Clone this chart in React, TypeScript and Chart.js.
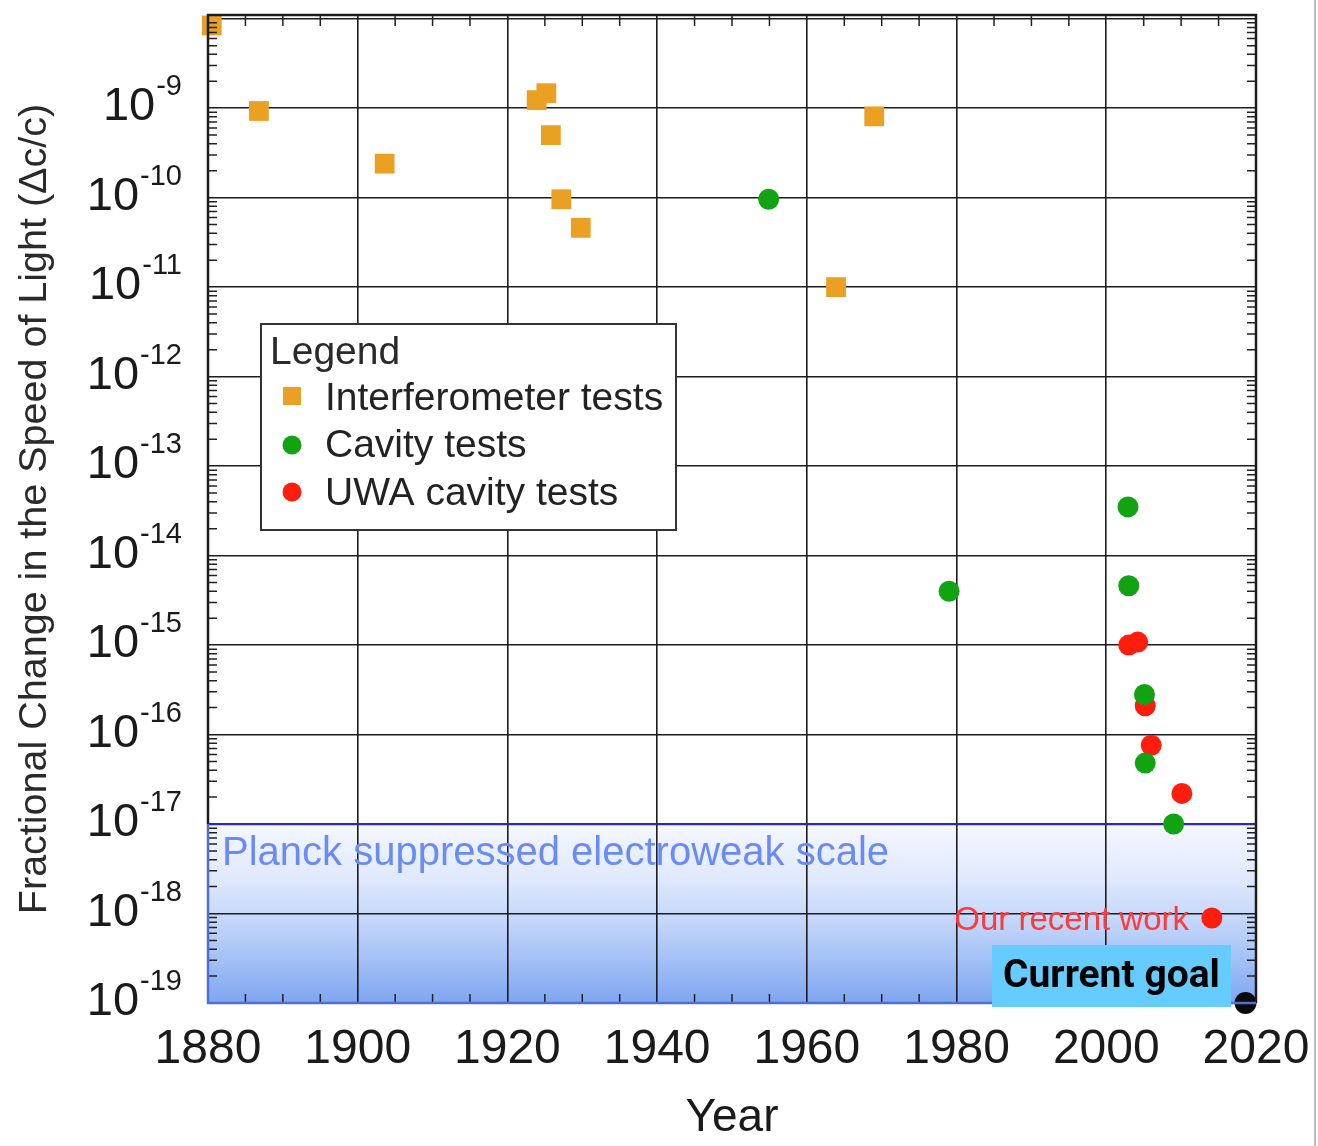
import React, { useEffect, useRef } from 'react';
import { Chart, registerables } from 'chart.js';

Chart.register(...registerables);
Chart.defaults.font.family = '"Liberation Sans", Arial, Helvetica, sans-serif';

// Measured limits on the fractional change of the speed of light, by year
const interferometerYears = [1880.5, 1886.8, 1903.6, 1923.9, 1925.2, 1925.8, 1927.2, 1929.8, 1963.9, 1969.0];
const interferometerValues = [8.4e-9, 9.3e-10, 2.4e-10, 1.23e-9, 1.47e-9, 5.0e-10, 9.6e-11, 4.6e-11, 1.0e-11, 8.1e-10];

const cavityYears = [1954.9, 1979.0, 2002.9, 2003.0, 2005.1, 2005.2, 2009.0];
const cavityValues = [9.6e-11, 4.0e-15, 3.5e-14, 4.6e-15, 2.8e-16, 4.8e-17, 1.0e-17];

const uwaYears = [2003.0, 2004.2, 2005.2, 2006.0, 2010.1, 2014.1];
const uwaValues = [1.0e-15, 1.08e-15, 2.1e-16, 7.6e-17, 2.2e-17, 8.9e-19];

const goalYears = [2018.6];
const goalValues = [1e-19];

const seriesLabels = ['Interferometer tests', 'Cavity tests', 'UWA cavity tests'];
const seriesColors = ['#E9A023', '#12A312', '#FF1E0E'];

// Axis ticks
const yearLabels = [1880, 1900, 1920, 1940, 1960, 1980, 2000, 2020];
const decadeExponents = [-19, -18, -17, -16, -15, -14, -13, -12, -11, -10, -9];
const yMin = 1e-19;
const yMax = 1.1e-8;
const planckLevel = 1e-17;

const FONT = '"Liberation Sans", Arial, Helvetica, sans-serif';

const isDecade = (v: number) => {
  const e = Math.log10(v);
  return Math.abs(e - Math.round(e)) < 1e-6;
};

const points = (xs: number[], ys: number[]) => xs.map((x, i) => ({ x, y: ys[i] }));

const decorPlugin = {
  id: 'decor',
  beforeDraw(chart: any) {
    const { ctx, chartArea: a, scales } = chart;
    const y0 = scales.y.getPixelForValue(planckLevel);
    const g = ctx.createLinearGradient(0, y0, 0, a.bottom);
    g.addColorStop(0, '#F4F7FF');
    g.addColorStop(0.3, '#E0E9FD');
    g.addColorStop(0.6, '#BCD1FA');
    g.addColorStop(1, '#7FA6F1');
    ctx.save();
    ctx.fillStyle = g;
    ctx.fillRect(a.left, y0, a.right - a.left, a.bottom - y0);
    ctx.restore();
  },
  beforeDatasetsDraw(chart: any) {
    const { ctx, chartArea: a } = chart;
    ctx.save();
    ctx.font = `40px ${FONT}`;
    ctx.fillStyle = '#6A8BF7';
    ctx.textAlign = 'left';
    ctx.textBaseline = 'alphabetic';
    ctx.fillText('Planck suppressed electroweak scale', a.left + 14, 865);
    ctx.restore();
  },
  afterDraw(chart: any) {
    const { ctx, chartArea: a, scales } = chart;
    const xs = scales.x;
    const ys = scales.y;
    ctx.save();

    // inward minor ticks
    ctx.strokeStyle = '#222';
    ctx.lineWidth = 1.5;
    ctx.beginPath();
    for (let yr = 1880; yr <= 2020; yr += 5) {
      if (yr % 20 === 0) continue;
      const x = xs.getPixelForValue(yr);
      ctx.moveTo(x, a.top);
      ctx.lineTo(x, a.top + 11);
      ctx.moveTo(x, a.bottom);
      ctx.lineTo(x, a.bottom - 9);
    }
    ys.ticks.forEach((t: any) => {
      if (isDecade(t.value)) return;
      const y = ys.getPixelForValue(t.value);
      ctx.moveTo(a.left, y);
      ctx.lineTo(a.left + 9, y);
      ctx.moveTo(a.right, y);
      ctx.lineTo(a.right - 9, y);
    });
    ctx.stroke();

    // frame
    const yp = ys.getPixelForValue(planckLevel);
    ctx.lineWidth = 2.5;
    ctx.strokeStyle = '#1c1c1c';
    ctx.beginPath();
    ctx.moveTo(a.left, yp);
    ctx.lineTo(a.left, a.top);
    ctx.lineTo(a.right, a.top);
    ctx.lineTo(a.right, a.bottom);
    ctx.stroke();
    ctx.strokeStyle = '#4F6FD6';
    ctx.beginPath();
    ctx.moveTo(a.left, yp);
    ctx.lineTo(a.left, a.bottom);
    ctx.lineTo(a.right, a.bottom);
    ctx.stroke();

    // y tick labels with superscript exponents
    ctx.fillStyle = '#1a1a1a';
    ctx.textBaseline = 'alphabetic';
    ctx.textAlign = 'left';
    const right = 182;
    decadeExponents.forEach((e) => {
      const y = ys.getPixelForValue(Math.pow(10, e));
      const sup = '-' + String(Math.abs(e));
      ctx.font = `29px ${FONT}`;
      const supW = ctx.measureText(sup).width;
      ctx.font = `47px ${FONT}`;
      const baseW = ctx.measureText('10').width;
      const supX = right - supW;
      ctx.fillText('10', supX - baseW - 1, y + 12);
      ctx.font = `29px ${FONT}`;
      ctx.fillText(sup, supX, y - 13);
    });

    // legend box
    const lx = 261, ly = 324, lw = 415, lh = 206;
    ctx.fillStyle = '#ffffff';
    ctx.fillRect(lx, ly, lw, lh);
    ctx.strokeStyle = '#333';
    ctx.lineWidth = 2;
    ctx.strokeRect(lx, ly, lw, lh);
    ctx.fillStyle = '#2a2a2a';
    ctx.font = `39px ${FONT}`;
    ctx.fillText('Legend', 270, 364);
    const rowY = [396, 445, 492];
    const baseY = [410, 457, 505];
    seriesLabels.forEach((label, i) => {
      ctx.fillStyle = seriesColors[i];
      ctx.beginPath();
      if (i === 0) {
        ctx.rect(292 - 9, rowY[i] - 9, 18, 18);
      } else {
        ctx.arc(292, rowY[i], 9.5, 0, Math.PI * 2);
      }
      ctx.fill();
      ctx.fillStyle = '#222';
      ctx.font = `39px ${FONT}`;
      ctx.fillText(label, 325, baseY[i]);
    });

    // annotation next to the latest result
    ctx.fillStyle = '#FF3A3A';
    ctx.font = `33px ${FONT}`;
    ctx.textAlign = 'right';
    ctx.fillText('Our recent work', 1189, 930);

    // current goal tag
    ctx.fillStyle = '#66CCFF';
    ctx.fillRect(992, 945, 239, 62);
    ctx.fillStyle = '#000';
    ctx.font = `bold 39px Roboto, "Open Sans", sans-serif`;
    ctx.textAlign = 'left';
    ctx.fillText('Current goal', 1003, 987);

    // page edge rule
    ctx.strokeStyle = '#bdbdbd';
    ctx.lineWidth = 2;
    ctx.beginPath();
    ctx.moveTo(1315, 0);
    ctx.lineTo(1315, 1146);
    ctx.stroke();

    ctx.restore();
  },
};

export default function App() {
  const ref = useRef<HTMLCanvasElement>(null);

  useEffect(() => {
    const canvas = ref.current;
    if (!canvas) return;

    const chart = new Chart(canvas, {
      type: 'scatter',
      data: {
        datasets: [
          {
            label: seriesLabels[0],
            data: points(interferometerYears, interferometerValues),
            pointStyle: 'rect',
            pointRadius: 14,
            backgroundColor: seriesColors[0],
            borderColor: seriesColors[0],
            borderWidth: 0,
            clip: false,
          },
          {
            label: seriesLabels[1],
            data: points(cavityYears, cavityValues),
            pointStyle: 'circle',
            pointRadius: 10.5,
            backgroundColor: seriesColors[1],
            borderColor: seriesColors[1],
            borderWidth: 0,
            clip: false,
          },
          {
            label: seriesLabels[2],
            data: points(uwaYears, uwaValues),
            pointStyle: 'circle',
            pointRadius: 10.5,
            backgroundColor: seriesColors[2],
            borderColor: seriesColors[2],
            borderWidth: 0,
            clip: false,
          },
          {
            label: 'Current goal',
            data: points(goalYears, goalValues),
            pointStyle: 'circle',
            pointRadius: 11,
            backgroundColor: '#0a0a0a',
            borderColor: '#0a0a0a',
            borderWidth: 0,
            clip: false,
          },
        ],
      },
      options: {
        responsive: false,
        animation: false,
        events: [],
        layout: { padding: { top: 15, right: 62, left: 0, bottom: 0 } },
        plugins: {
          legend: { display: false },
          tooltip: { enabled: false },
        },
        scales: {
          x: {
            type: 'linear',
            min: 1880,
            max: 2020,
            afterFit: (s: any) => {
              s.height = 143;
              s.paddingLeft = 0;
              s.paddingRight = 0;
            },
            afterBuildTicks: (s: any) => {
              const t = [];
              for (let yr = 1880; yr <= 2020; yr += 5) t.push({ value: yr });
              s.ticks = t;
            },
            border: { display: false },
            grid: {
              drawTicks: false,
              color: (c: any) => {
                const v = c.tick ? c.tick.value : 0;
                return yearLabels.includes(v) && v !== 1880 && v !== 2020 ? '#1c1c1c' : 'rgba(0,0,0,0)';
              },
              lineWidth: 1.6,
            },
            ticks: {
              autoSkip: false,
              maxRotation: 0,
              padding: 18,
              color: '#1a1a1a',
              font: { size: 48 },
              callback: (v: any) => (yearLabels.includes(Number(v)) ? String(v) : ''),
            },
            title: {
              display: true,
              text: 'Year',
              color: '#1a1a1a',
              font: { size: 46 },
              padding: { top: 0, bottom: 0 },
            },
          },
          y: {
            type: 'logarithmic',
            min: yMin,
            max: yMax,
            afterFit: (s: any) => {
              s.width = 208;
              s.paddingTop = 0;
              s.paddingBottom = 0;
            },
            afterBuildTicks: (s: any) => {
              const t = [];
              for (let e = -19; e <= -8; e++) {
                for (let m = 1; m <= 9; m++) {
                  const v = m * Math.pow(10, e);
                  if (v >= yMin * 0.999 && v <= yMax) t.push({ value: v });
                }
              }
              s.ticks = t;
            },
            border: { display: false },
            grid: {
              drawTicks: false,
              color: (c: any) => {
                const v = c.tick ? c.tick.value : 1;
                if (!isDecade(v)) return 'rgba(0,0,0,0)';
                const e = Math.round(Math.log10(v));
                if (e === -19) return 'rgba(0,0,0,0)';
                if (e === -17) return '#2B2BA6';
                return '#1c1c1c';
              },
              lineWidth: (c: any) => {
                const v = c.tick ? c.tick.value : 1;
                return Math.round(Math.log10(v)) === -17 ? 2.2 : 1.6;
              },
            },
            ticks: { display: false, autoSkip: false },
            title: {
              display: true,
              text: 'Fractional Change in the Speed of Light (Δc/c)',
              color: '#2a2a2a',
              font: { size: 39.5 },
              padding: { top: 11, bottom: 0 },
            },
          },
        },
      },
      plugins: [decorPlugin],
    } as any);

    return () => chart.destroy();
  }, []);

  return (
    <div style={{ position: 'absolute', left: 0, top: 0, width: 1318, height: 1146, background: '#ffffff' }}>
      <canvas ref={ref} width={1318} height={1146} style={{ display: 'block' }} />
    </div>
  );
}
